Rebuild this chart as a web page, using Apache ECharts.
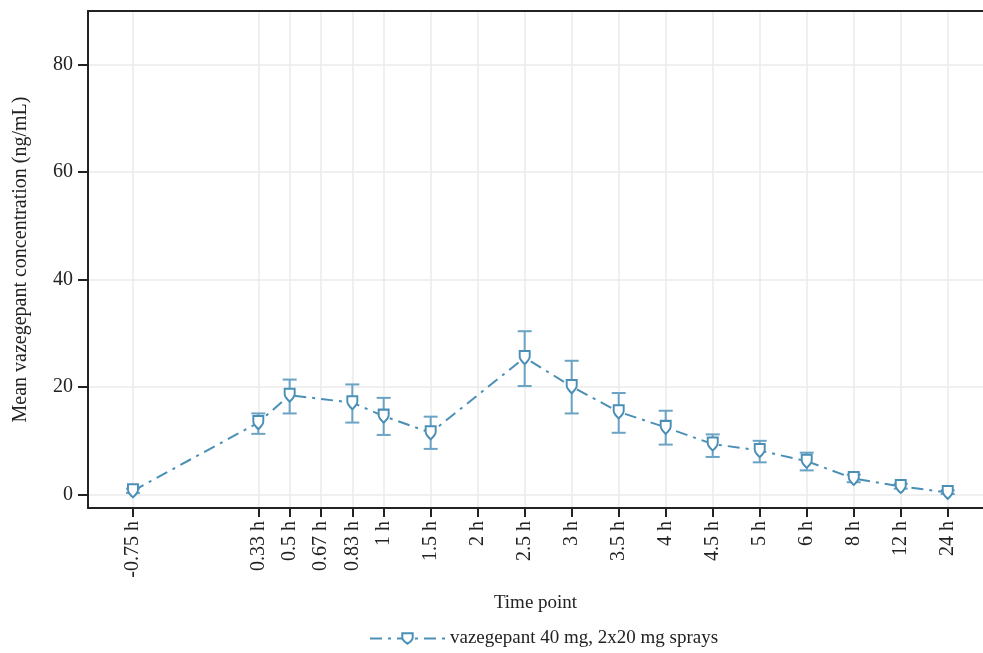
<!DOCTYPE html>
<html>
<head>
<meta charset="utf-8">
<style>
  html, body { margin: 0; padding: 0; background: #ffffff; }
  #chart { width: 983px; height: 653px; }
</style>
<script src="https://cdn.jsdelivr.net/npm/echarts@6/dist/echarts.min.js"></script>
</head>
<body>
<div id="chart"></div>
<script>
// Sampling time points and their ordinal slot on the time axis
const timeLabels = ['-0.75 h', '0.33 h', '0.5 h', '0.67 h', '0.83 h', '1 h', '1.5 h', '2 h', '2.5 h',
  '3 h', '3.5 h', '4 h', '4.5 h', '5 h', '6 h', '8 h', '12 h', '24 h'];
const axisSlots = [0, 8, 10, 12, 14, 16, 19, 22, 25, 28, 31, 34, 37, 40, 43, 46, 49, 52];

// Mean plasma concentration (ng/mL) with lower / upper error limits
const meanConc  = [0.7, 13.4, 18.5, null, 17.1, 14.6, 11.5, null, 25.5, 20.1, 15.4, 12.5, 9.4, 8.2, 6.2, 3.0, 1.5, 0.4];
const lowerConc = [0.3, 11.3, 15.1, null, 13.4, 11.1, 8.5, null, 20.2, 15.1, 11.5, 9.3, 7.0, 6.0, 4.5, 2.3, 1.1, 0.1];
const upperConc = [1.1, 15.1, 21.4, null, 20.5, 18.0, 14.5, null, 30.4, 24.9, 18.9, 15.6, 11.2, 10.0, 7.8, 3.7, 2.0, 0.8];

const yTicks = [0, 20, 40, 60, 80];
const seriesName = 'vazegepant 40 mg, 2x20 mg sprays';

const lineColor = '#4a8fb6';
const barColor = '#6aa3c4';
const fontFamily = "'Liberation Serif', 'DejaVu Serif', serif";
const textColor = '#222222';
const axisColor = '#222222';

const xMin = -2.87, xMax = 54.25;

const lineData = axisSlots.map((s, i) => [s, meanConc[i]]);
const errData = axisSlots
  .map((s, i) => [s, lowerConc[i], upperConc[i]])
  .filter(d => d[1] != null);

// downward shield marker
const shield = 'path://M0,0 L10,0 L10,5 C10,8 7.5,10 5,12 C2.5,10 0,8 0,5 Z';

const chart = echarts.init(document.getElementById('chart'), null, { renderer: 'canvas' });

chart.setOption({
  animation: false,
  backgroundColor: '#ffffff',
  textStyle: { fontFamily: fontFamily, color: textColor },
  grid: { left: 88, top: 11, right: 0, height: 497 },
  legend: {
    data: [seriesName],
    left: 364, top: 624,
    itemWidth: 75, itemHeight: 13,
    itemGap: 10,
    textStyle: { fontFamily: fontFamily, fontSize: 19, color: textColor }
  },
  xAxis: [
    {
      type: 'value',
      min: xMin, max: xMax,
      name: 'Time point',
      nameLocation: 'middle',
      nameGap: 86,
      nameTextStyle: { fontFamily: fontFamily, fontSize: 19, color: textColor },
      axisLine: { show: true, onZero: false, lineStyle: { color: axisColor, width: 2 } },
      axisTick: { show: true, length: 9, customValues: axisSlots, lineStyle: { color: axisColor, width: 2 } },
      axisLabel: {
        customValues: axisSlots,
        rotate: 90,
        margin: 13,
        fontFamily: fontFamily, fontSize: 20, color: textColor,
        formatter: v => timeLabels[axisSlots.indexOf(v)]
      },
      splitLine: { show: true, lineStyle: { color: '#ebebeb', width: 1.5 } }
    },
    {
      // plain frame line along the top of the plot
      type: 'value',
      position: 'top',
      min: xMin, max: xMax,
      axisLine: { show: true, onZero: false, lineStyle: { color: axisColor, width: 2 } },
      axisTick: { show: false },
      axisLabel: { show: false },
      splitLine: { show: false }
    }
  ],
  yAxis: {
    type: 'value',
    min: -2.5, max: 90,
    name: 'Mean vazegepant concentration (ng/mL)',
    nameLocation: 'middle',
    nameGap: 57,
    nameTextStyle: { fontFamily: fontFamily, fontSize: 20, color: textColor },
    axisLine: { show: true, onZero: false, lineStyle: { color: axisColor, width: 2 } },
    axisTick: { show: true, length: 10, customValues: yTicks, lineStyle: { color: axisColor, width: 2 } },
    axisLabel: {
      customValues: yTicks,
      margin: 15,
      fontFamily: fontFamily, fontSize: 20, color: textColor
    },
    splitLine: { show: true, lineStyle: { color: '#ebebeb', width: 1.5 } }
  },
  series: [
    {
      name: seriesName,
      type: 'line',
      data: lineData,
      connectNulls: true,
      symbol: shield,
      symbolSize: [12, 13],
      symbolKeepAspect: true,
      itemStyle: { color: '#ffffff', borderColor: lineColor, borderWidth: 2 },
      lineStyle: { color: lineColor, width: 2, type: [12, 6, 3, 6] },
      z: 3
    },
    {
      type: 'custom',
      data: errData,
      z: 2,
      renderItem: (params, api) => {
        const x = api.value(0);
        const lo = api.coord([x, api.value(1)]);
        const hi = api.coord([x, api.value(2)]);
        const hw = 7;
        const style = { stroke: barColor, lineWidth: 2 };
        return {
          type: 'group',
          children: [
            { type: 'line', shape: { x1: lo[0], y1: lo[1], x2: hi[0], y2: hi[1] }, style: style },
            { type: 'line', shape: { x1: lo[0] - hw, y1: lo[1], x2: lo[0] + hw, y2: lo[1] }, style: style },
            { type: 'line', shape: { x1: hi[0] - hw, y1: hi[1], x2: hi[0] + hw, y2: hi[1] }, style: style }
          ]
        };
      }
    }
  ]
});
</script>
</body>
</html>
